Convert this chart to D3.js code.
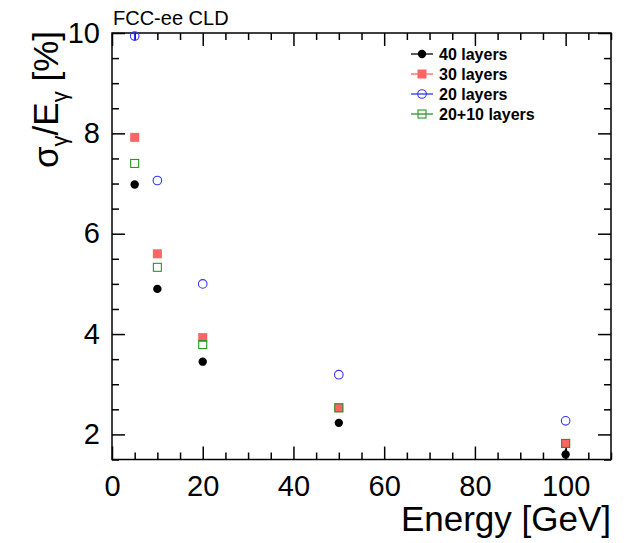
<!DOCTYPE html>
<html lang="en">
<head>
<meta charset="UTF-8">
<title>Photon energy resolution</title>
<script src="https://d3js.org/d3.v7.min.js"></script>
<style>
  body { margin: 0; background: #fff; }
  svg text { font-family: "Liberation Sans", Arial, sans-serif; }
</style>
</head>
<body>
<div id="chart"></div>
<script>
// data
const energies = [5, 10, 20, 50, 100];
const res40 = [6.98, 4.90, 3.45, 2.23, 1.60];
const res30 = [7.92, 5.60, 3.93, 2.53, 1.82];
const res20 = [9.94, 7.06, 5.00, 3.19, 2.27];
const res2010 = [7.40, 5.33, 3.79, 2.53, 1.82];
const err40 = [0.04, 0.03, 0.03, 0.03, 0.11];
const err30 = [0.04, 0.03, 0.03, 0.03, 0.03];
const err20 = [0.10, 0.04, 0.03, 0.03, 0.03];
const err2010 = [0.04, 0.03, 0.03, 0.03, 0.03];
const xTicks = [0, 20, 40, 60, 80, 100];
const yTicks = [2, 4, 6, 8, 10];
const seriesNames = ["40 layers", "30 layers", "20 layers", "20+10 layers"];

const W = 626, H = 543;
const mLeft = 112, mRight = 611, mTop = 33, mBottom = 459.5;

const series = [
  {name: seriesNames[0], vals: res40, errs: err40, color: "#000000", shape: "circle", fill: true},
  {name: seriesNames[1], vals: res30, errs: err30, color: "#ff6464", shape: "square", fill: true},
  {name: seriesNames[2], vals: res20, errs: err20, color: "#3333ff", shape: "circle", fill: false},
  {name: seriesNames[3], vals: res2010, errs: err2010, color: "#229922", shape: "square", fill: false}
];

const svg = d3.select("#chart").append("svg")
  .attr("width", W).attr("height", H);

const x = d3.scaleLinear().domain([0, 110]).range([mLeft, mRight]);
const y = d3.scaleLinear().domain([1.5, 10]).range([mBottom, mTop]);

const xMinor = d3.range(0, 111, 5).filter(v => v % 20 != 0);
const yMinor = d3.range(1.5, 10.01, 0.5).filter(v => Math.abs(v % 2) > 0.01);

function styleAxis(g) {
  g.select(".domain").remove();
  g.selectAll("line").attr("stroke", "#000").attr("stroke-width", 1.5);
  g.selectAll("text").attr("fill", "#000").style("font-size", "29px");
}

// bottom axis
svg.append("g").attr("transform", `translate(0,${mBottom})`)
  .call(d3.axisBottom(x).tickValues(xTicks).tickSize(-13).tickPadding(16).tickFormat(d3.format("d")))
  .call(styleAxis);
svg.append("g").attr("transform", `translate(0,${mBottom})`)
  .call(d3.axisBottom(x).tickValues(xMinor).tickSize(-7).tickFormat(""))
  .call(styleAxis);
// top axis
svg.append("g").attr("transform", `translate(0,${mTop})`)
  .call(d3.axisTop(x).tickValues(xTicks).tickSize(-13).tickFormat(""))
  .call(styleAxis);
svg.append("g").attr("transform", `translate(0,${mTop})`)
  .call(d3.axisTop(x).tickValues(xMinor).tickSize(-7).tickFormat(""))
  .call(styleAxis);
// left axis
svg.append("g").attr("transform", `translate(${mLeft},0)`)
  .call(d3.axisLeft(y).tickValues(yTicks).tickSize(-13).tickPadding(12).tickFormat(d3.format("d")))
  .call(styleAxis);
svg.append("g").attr("transform", `translate(${mLeft},0)`)
  .call(d3.axisLeft(y).tickValues(yMinor).tickSize(-7).tickFormat(""))
  .call(styleAxis);
// right axis
svg.append("g").attr("transform", `translate(${mRight},0)`)
  .call(d3.axisRight(y).tickValues(yTicks).tickSize(-13).tickFormat(""))
  .call(styleAxis);
svg.append("g").attr("transform", `translate(${mRight},0)`)
  .call(d3.axisRight(y).tickValues(yMinor).tickSize(-7).tickFormat(""))
  .call(styleAxis);

// frame
svg.append("rect")
  .attr("x", mLeft).attr("y", mTop)
  .attr("width", mRight - mLeft).attr("height", mBottom - mTop)
  .attr("fill", "none").attr("stroke", "#000").attr("stroke-width", 1.5);

// markers
function drawMarker(g, s, cx, cy) {
  if (s.shape == "circle") {
    g.append("circle").attr("cx", cx).attr("cy", cy)
      .attr("r", s.fill ? 4.2 : 4.3)
      .attr("fill", s.fill ? s.color : "none")
      .attr("stroke", s.color).attr("stroke-width", s.fill ? 0 : 1.1);
  } else {
    const h = s.fill ? 4.5 : 4;
    g.append("rect").attr("x", cx - h).attr("y", cy - h)
      .attr("width", 2 * h).attr("height", 2 * h)
      .attr("fill", s.fill ? s.color : "none")
      .attr("stroke", s.fill ? "none" : s.color).attr("stroke-width", 1.1);
  }
}

const plot = svg.append("g");
// draw in reverse order so 40 layers is on top
[series[2], series[1], series[3], series[0]].forEach(s => {
  energies.forEach((e, i) => {
    const y1 = y(s.vals[i] - s.errs[i]), y2 = y(s.vals[i] + s.errs[i]);
    // error bars only show when they reach past the marker
    if (y1 - y2 > 9) {
      plot.append("line")
        .attr("x1", x(e)).attr("x2", x(e))
        .attr("y1", y1).attr("y2", Math.max(y2, mTop))
        .attr("stroke", s.color).attr("stroke-width", 1.5);
    }
    drawMarker(plot, s, x(e), y(s.vals[i]));
  });
});

// legend
const leg = svg.append("g");
series.forEach((s, i) => {
  const ly = 54 + i * 20;
  leg.append("line").attr("x1", 411).attr("x2", 433).attr("y1", ly).attr("y2", ly)
    .attr("stroke", s.color).attr("stroke-width", 1.3);
  drawMarker(leg, s, 422, ly);
  leg.append("text").attr("x", 439).attr("y", ly + 5.5)
    .style("font-size", "16px").style("font-weight", "bold")
    .text(s.name);
});

// titles
svg.append("text").attr("x", 113).attr("y", 25)
  .style("font-size", "20px").text("FCC-ee CLD");

svg.append("text").attr("x", 611).attr("y", 531)
  .attr("text-anchor", "end").style("font-size", "35px")
  .text("Energy [GeV]");

const yl = svg.append("text")
  .attr("transform", "translate(58,31) rotate(-90)")
  .attr("text-anchor", "end").style("font-size", "35px");
yl.append("tspan").text("σ");
yl.append("tspan").attr("dy", 9).style("font-size", "22px").text("γ");
yl.append("tspan").attr("dy", -9).text("/E");
yl.append("tspan").attr("dy", 9).style("font-size", "22px").text("γ");
yl.append("tspan").attr("dy", -9).text(" [%]");
</script>
</body>
</html>
